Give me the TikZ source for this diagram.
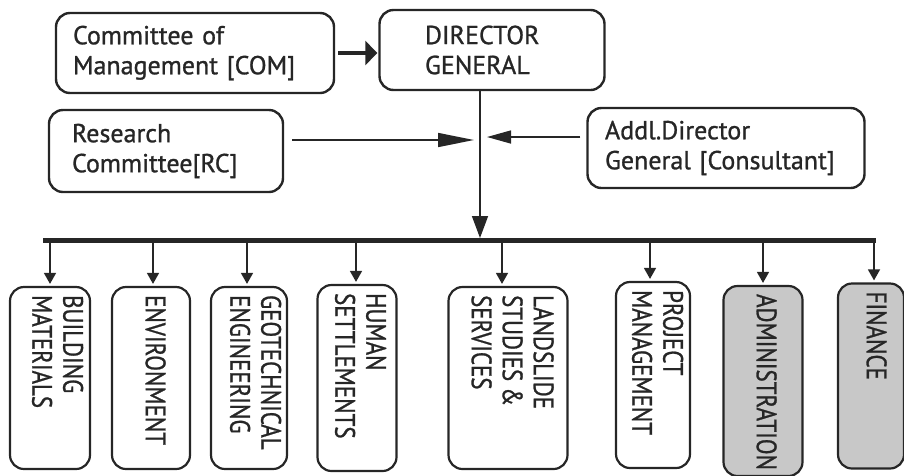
\documentclass[tikz,border=0pt]{standalone}
\usepackage{fontspec}
\usepackage{graphicx}
\setmainfont{PT Sans}
\newfontfamily\medfont{PT Sans}[FakeBold=1]
\usetikzlibrary{arrows.meta,calc}
\definecolor{ink}{HTML}{262626}
\definecolor{boxgray}{HTML}{C8C8C8}
\newcommand\rottxt[1]{\scalebox{0.82}[1]{\begin{tabular}{@{}l@{}}#1\end{tabular}}}
\begin{document}
\begin{tikzpicture}[x=1pt,y=-1pt,
  topbox/.style={draw=ink, line width=2.4pt, rounded corners=14pt, align=left,
    font=\medfont\fontsize{26}{30}\selectfont, text=ink, inner sep=0pt},
  botbox/.style={draw=ink, line width=2.2pt, rounded corners=14pt, inner sep=0pt},
  graybox/.style={botbox, fill=boxgray},
  rottext/.style={font=\medfont\fontsize{28}{31}\selectfont, rotate=-90, anchor=west,
    inner sep=0pt, text=ink},
  branch/.style={draw=ink, line width=1.5pt, -{Triangle[length=11pt,width=12pt]}},
  thin/.style={draw=ink, line width=1.5pt},
]
\useasboundingbox (0,0) rectangle (904,475);

% top boxes
\node[topbox, minimum width=278pt, minimum height=80pt, text width=244pt] (com) at (195,53)
  {Committee of\\Management [COM]};
\node[topbox, minimum width=225pt, minimum height=80pt, text width=134pt] (dg) at (492,50)
  {DIRECTOR\\GENERAL};
\node[topbox, minimum width=234pt, minimum height=82pt, text width=188pt] (rc) at (166,151)
  {Research\\Committee[RC]};
\node[topbox, minimum width=277pt, minimum height=80pt, text width=242pt] (addl) at (726,148)
  {Addl.Director\\General [Consultant]};

% junction coordinates
\coordinate (v0) at ($(dg.south)+(-12,0)$);
\coordinate (jl) at (474,140);
\coordinate (jr) at (487,137);
\coordinate (bl) at (43,240);
\coordinate (br) at (876,240);
\coordinate (bm) at (480,238);

\draw[draw=ink, line width=4.5pt, -{Triangle[length=12pt,width=24pt]}]
  ([xshift=3pt]com.east) -- ([xshift=-1pt]com.east -| dg.west);
\draw[thin, -{Triangle[length=22pt,width=16pt]}] (v0) -- (bm);
\draw[thin, -{Triangle[length=36pt,width=14pt]}] ([xshift=8pt]rc.east |- jl) -- (jl);
\draw[thin, -{Triangle[length=24pt,width=13pt]}] ([xshift=-6pt]addl.west |- jr) -- (jr);

% bus
\draw[draw=ink, line width=5pt] (bl) -- (br);

% bottom boxes
\node[botbox, minimum width=80pt, minimum height=182pt] (b1) at (50,378) {};
\node[botbox, minimum width=78pt, minimum height=182pt] (b2) at (151,378) {};
\node[botbox, minimum width=76pt, minimum height=182pt] (b3) at (249,378) {};
\node[botbox, minimum width=79pt, minimum height=186pt] (b4) at (357,378) {};
\node[botbox, minimum width=119pt, minimum height=182pt] (b5) at (508,378) {};
\node[botbox, minimum width=74pt, minimum height=186pt] (b6) at (653,375) {};
\node[graybox, minimum width=79pt, minimum height=190pt] (b7) at (763,381) {};
\node[graybox, minimum width=66pt, minimum height=185pt] (b8) at (871,376) {};

\node[rottext] (t1) at ($(b1.north)+(4,9)$) {\rottxt{BUILDING\\MATERIALS}};
\node[rottext] (t2) at ($(b2.north)+(1,9)$) {\rottxt{ENVIRONMENT}};
\node[rottext] (t3) at ($(b3.north)+(3,9)$) {\rottxt{GEOTECHNICAL\\ENGINEERING}};
\node[rottext] (t4) at ($(b4.north)+(0,9)$) {\rottxt{HUMAN\\SETTLEMENTS}};
\node[rottext] (t5) at ($(b5.north)+(1,9)$) {\rottxt{LANDSLIDE\\STUDIES \&\\SERVICES}};
\node[rottext] (t6) at ($(b6.north)+(1,9)$) {\rottxt{PROJECT\\MANAGEMENT}};
\node[rottext] (t7) at ($(b7.north)+(0,9)$) {\rottxt{ADMINISTRATION}};
\node[rottext] (t8) at ($(b8.north)+(2,9)$) {\rottxt{FINANCE}};

% branches
\foreach \b/\dx in {b1/0,b2/2,b3/-2,b4/-1,b5/-6,b6/-3,b7/0,b8/3}{
  \draw[branch] ([xshift=\dx pt]\b.north |- bl) -- ([xshift=\dx pt, yshift=2pt]\b.north);
}
\end{tikzpicture}
\end{document}
